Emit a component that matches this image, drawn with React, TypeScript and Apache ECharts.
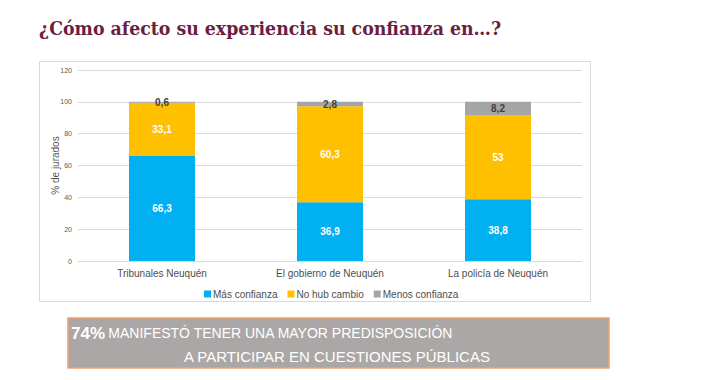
import React, { useEffect, useRef } from "react";
import * as echarts from "echarts";

const categories = ["Tribunales Neuquén", "El gobierno de Neuquén", "La policía de Neuquén"];
const masConfianza = [66.3, 36.9, 38.8];
const noHubCambio = [33.1, 60.3, 53];
const menosConfianza = [0.6, 2.8, 8.2];
const seriesNames = ["Más confianza", "No hub cambio", "Menos confianza"];
const yTicks = { min: 0, max: 120, interval: 20 };

const fmt = (p: any) => String(p.value).replace(".", ",");

export default function App() {
  const ref = useRef<HTMLDivElement>(null);
  useEffect(() => {
    if (!ref.current) return;
    const chart = echarts.init(ref.current, undefined, { renderer: "svg" });
    const labelBase = {
      show: true,
      position: "inside" as const,
      fontFamily: "Liberation Sans, Arial, sans-serif",
      fontSize: 10,
      fontWeight: "bold" as const,
      formatter: fmt,
    };
    chart.setOption({
      animation: false,
      backgroundColor: "#ffffff",
      title: {
        text: "¿Cómo afecto su experiencia su confianza en…?",
        left: 34,
        top: 14,
        textStyle: {
          fontFamily: "DejaVu Serif Condensed, DejaVu Serif, serif",
          fontSize: 19.3,
          fontWeight: "bold",
          color: "#6B1E42",
        },
      },
      grid: { left: 78, right: 138, top: 70, height: 191 },
      legend: {
        data: seriesNames,
        left: 199,
        top: 284,
        itemWidth: 7,
        itemHeight: 7,
        itemGap: 10,
        icon: "rect",
        textStyle: {
          fontFamily: "Liberation Sans, Arial, sans-serif",
          fontSize: 10,
          color: "#4d4d4d",
          padding: [0, 0, 0, -3],
        },
      },
      xAxis: {
        type: "category",
        data: categories,
        axisLine: { lineStyle: { color: "#d9d9d9" } },
        axisTick: { show: false },
        axisLabel: {
          fontFamily: "Liberation Sans, Arial, sans-serif",
          fontSize: 10,
          color: "#4d4d4d",
          margin: 7,
        },
      },
      yAxis: {
        type: "value",
        min: yTicks.min,
        max: yTicks.max,
        interval: yTicks.interval,
        name: "% de jurados",
        nameLocation: "middle",
        nameGap: 18,
        nameMoveOverlap: false,
        nameTextStyle: {
          fontFamily: "Liberation Sans, Arial, sans-serif",
          fontSize: 10,
          color: "#595959",
        },
        axisLine: { show: false },
        axisTick: { show: false },
        axisLabel: {
          fontFamily: "Liberation Sans, Arial, sans-serif",
          fontSize: 7,
          color: "#595959",
          margin: 6,
        },
        splitLine: { lineStyle: { color: "#d9d9d9", width: 1 } },
      },
      series: [
        {
          name: seriesNames[0],
          type: "bar",
          stack: "t",
          data: masConfianza,
          barWidth: 66,
          itemStyle: { color: "#00B0F0" },
          label: { ...labelBase, color: "#ffffff" },
        },
        {
          name: seriesNames[1],
          type: "bar",
          stack: "t",
          data: noHubCambio,
          itemStyle: { color: "#FFC000" },
          label: { ...labelBase, color: "#ffffff" },
        },
        {
          name: seriesNames[2],
          type: "bar",
          stack: "t",
          data: menosConfianza,
          itemStyle: { color: "#A5A5A5" },
          label: { ...labelBase, color: "#404040" },
        },
      ],
      graphic: [
        {
          type: "rect",
          z: -1,
          shape: { x: 39.5, y: 61.5, width: 551, height: 240 },
          style: { fill: "none", stroke: "#d9d9d9", lineWidth: 1 },
        },
        {
          type: "rect",
          shape: { x: 68, y: 318, width: 541, height: 50 },
          style: { fill: "#ABA7A6", stroke: "#F2A070", lineWidth: 1.5 },
        },
        {
          type: "text",
          x: 71,
          y: 333,
          style: {
            text: "{b|74%} {n|MANIFESTÓ TENER UNA MAYOR PREDISPOSICIÓN}",
            verticalAlign: "middle",
            rich: {
              b: {
                fontFamily: "Liberation Sans, Arial, sans-serif",
                fontSize: 17,
                fontWeight: "bold",
                fill: "#ffffff",
              },
              n: {
                fontFamily: "Liberation Sans, Arial, sans-serif",
                fontSize: 14,
                fill: "#ffffff",
              },
            },
          },
        },
        {
          type: "text",
          x: 184,
          y: 356,
          style: {
            text: "A PARTICIPAR EN CUESTIONES PÚBLICAS",
            verticalAlign: "middle",
            fontFamily: "Liberation Sans, Arial, sans-serif",
            fontSize: 15,
            fill: "#ffffff",
          },
        },
      ],
    });
    return () => chart.dispose();
  }, []);
  return (
    <div
      ref={ref}
      style={{ position: "fixed", left: 0, top: 0, width: 720, height: 380 }}
    />
  );
}
